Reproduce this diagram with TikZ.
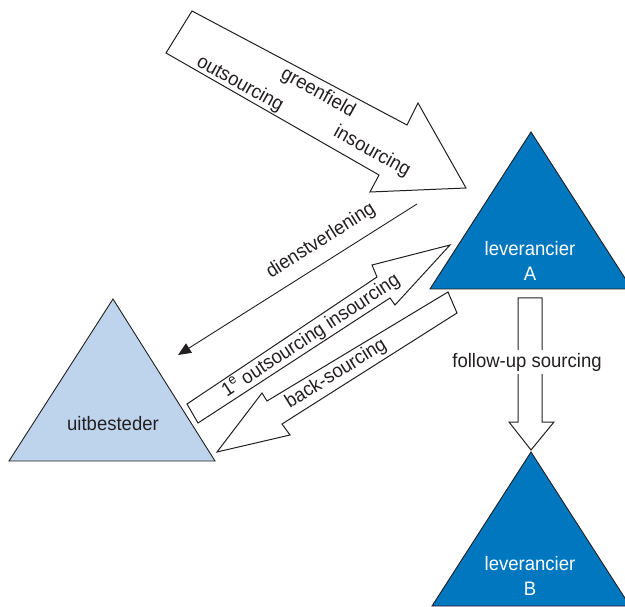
\documentclass[tikz,border=0pt]{standalone}
\usepackage{fontspec}
\setmainfont{Liberation Sans}[FakeStretch=0.95]
\usetikzlibrary{arrows.meta}
\definecolor{ink}{RGB}{35,31,32}
\definecolor{paleblue}{RGB}{190,212,236}
\definecolor{deepblue}{RGB}{0,119,190}

\begin{document}
\begin{tikzpicture}[x=1pt,y=-1pt,
  lbl/.style={text=ink,font=\fontsize{19.5}{25}\selectfont,inner sep=1pt},
  whitelbl/.style={lbl,text=white,align=center},
  party/.style={draw=ink,line width=0.9pt,line join=miter},
  blockarrow/.style={draw=ink,fill=white,line width=1pt,line join=miter},
  flow/.style={draw=ink,line width=0.9pt,-{Triangle[length=13pt,width=11pt]}}]
\useasboundingbox (0,0) rectangle (625,607);
\clip (0,0) rectangle (625,607);

% --- parties -------------------------------------------------------------
\coordinate (u-top) at (113,299);
\coordinate (u-left) at (9,461);
\coordinate (u-right) at (215,461);
\draw[party,fill=paleblue] (u-top) -- (u-left) -- (u-right) -- cycle;
\node[lbl] (uitbesteder) at (113,424) {uitbesteder};

\coordinate (a-top) at (531,132);
\coordinate (a-left) at (430,289);
\coordinate (a-right) at (632,289);
\draw[party,fill=deepblue] (a-top) -- (a-left) -- (a-right) -- cycle;
\node[whitelbl] (levA) at (530,261) {leverancier\\A};

\coordinate (b-top) at (531,452);
\coordinate (b-left) at (432,606);
\coordinate (b-right) at (630,606);
\draw[party,fill=deepblue] (b-top) -- (b-left) -- (b-right) -- cycle;
\node[whitelbl] (levB) at (530,576) {leverancier\\B};

% --- greenfield / outsourcing / insourcing ------------------------------
\draw[blockarrow] (192,11) -- (407,125) -- (418,103) -- (466,188)
  -- (370,192) -- (379,175) -- (166,53) -- cycle;
\node[lbl,rotate=-29] (outs) at (240,84) {outsourcing};
\node[lbl,rotate=-29] (green) at (318,93) {greenfield};
\node[lbl,rotate=-29] (ins) at (372,152) {insourcing};

% --- dienstverlening ----------------------------------------------------
\coordinate (dv-from) at (417,204);
\coordinate (dv-to) at (178,355);
\draw[flow] (dv-from) -- (dv-to);
\node[lbl,rotate=32.3] (dienst) at (321,241) {dienstverlening};

% --- first outsourcing / insourcing ---------------------------------------
\draw[blockarrow] (187,404) -- (377,277) -- (372,265) -- (450,245)
  -- (395,305) -- (390,298) -- (198,423) -- cycle;
\node[lbl,rotate=33.3] (first) at (311,336)
  {1\textsuperscript{e} outsourcing insourcing};

% --- back-sourcing ------------------------------------------------------
\draw[blockarrow] (448,292) -- (267,401) -- (262,393) -- (217,452)
  -- (290,435) -- (282,424) -- (457,313) -- cycle;
\node[lbl,rotate=32] (back) at (336,374) {back-sourcing};

% --- follow-up sourcing -------------------------------------------------
\draw[blockarrow] (518,298) -- (542,298) -- (542,422) -- (554,422)
  -- (531,450) -- (509,422) -- (518,422) -- cycle;
\node[lbl,fill=white,inner xsep=2pt,inner ysep=3pt] (follow) at (527,362)
  {follow-up sourcing};
\end{tikzpicture}
\end{document}
